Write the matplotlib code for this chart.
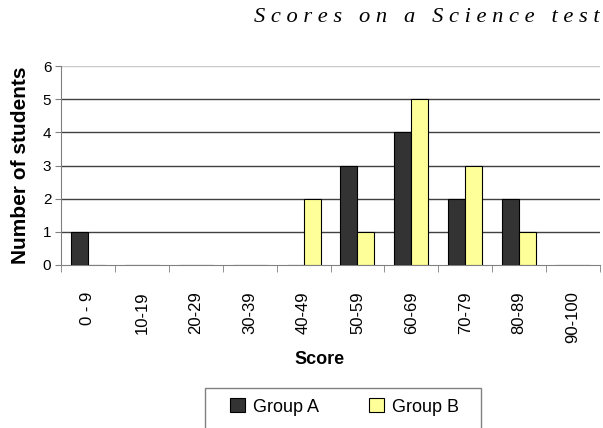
import matplotlib
matplotlib.use("Agg")
import matplotlib.pyplot as plt
from matplotlib.patches import Rectangle
import numpy as np

# data
score_bins = ["0 - 9", "10-19", "20-29", "30-39", "40-49",
              "50-59", "60-69", "70-79", "80-89", "90-100"]
group_a = [1, 0, 0, 0, 0, 3, 4, 2, 2, 0]
group_b = [0, 0, 0, 0, 2, 1, 5, 3, 1, 0]
y_ticks = [0, 1, 2, 3, 4, 5, 6]

plt.rcParams['font.family'] = ['Liberation Sans', 'DejaVu Sans']

fig = plt.figure(figsize=(6.03, 4.28), dpi=100)
ax = fig.add_axes([61 / 603, 1 - 265 / 428, 539 / 603, 199 / 428])

x = np.arange(len(score_bins))
w = 0.315
ax.bar(x - w / 2, group_a, w, color='#333333', edgecolor='black', linewidth=0.8,
       label='Group A', zorder=3)
ax.bar(x + w / 2, group_b, w, color='#FFFF99', edgecolor='black', linewidth=0.8,
       label='Group B', zorder=3)

ax.set_xlim(-0.5, len(score_bins) - 0.5)
ax.set_ylim(0, 6)
ax.set_yticks(y_ticks)
for t in y_ticks[1:]:
    ax.axhline(t, color='#c8c8c8' if t == 6 else '#404040', linewidth=1.0, zorder=1)

# category labels on majors, tick marks between categories
ax.set_xticks(x)
ax.set_xticklabels(score_bins, rotation=90, fontsize=12)
ax.set_xticks(np.arange(len(score_bins) + 1) - 0.5, minor=True)
ax.tick_params(axis='x', which='major', length=0, pad=19)
ax.tick_params(axis='x', which='minor', length=5, color='#808080', direction='out')
ax.tick_params(axis='y', length=4, color='#808080', labelsize=11, pad=3)

for s in ['top', 'right']:
    ax.spines[s].set_visible(False)
ax.spines['left'].set_color('#808080')
ax.spines['bottom'].set_color('#808080')

ax.set_ylabel('Number of students', fontsize=15, fontweight='bold')
ax.yaxis.set_label_coords(-0.057, 0.5)
ax.set_xlabel('Score', fontsize=13, fontweight='bold')
ax.xaxis.set_label_coords(0.48, -0.477)
ax.xaxis.label.set_va('center')

title = "S c o r e s   o n   a   S c i e n c e   t e s t"
fig.text(600 / 603, 1 - 18 / 428, title, ha='right', va='center',
         fontsize=16.2, style='italic', family=['Liberation Serif', 'DejaVu Serif'])

# legend box runs off the bottom edge like in the reference
fig.patches.append(Rectangle((205 / 603, -0.1), (481 - 205) / 603, 1 - 388 / 428 + 0.1,
                             transform=fig.transFigure, fill=False,
                             edgecolor='#808080', linewidth=1.0))
fig.legend(loc='center left', bbox_to_anchor=(230 / 603, 1 - 407 / 428),
           ncol=2, fontsize=13, frameon=False,
           handlelength=0.83, handleheight=0.83,
           handletextpad=0.45, columnspacing=2.75, borderpad=0,
           borderaxespad=0)

plt.savefig('out.png', dpi=100)
